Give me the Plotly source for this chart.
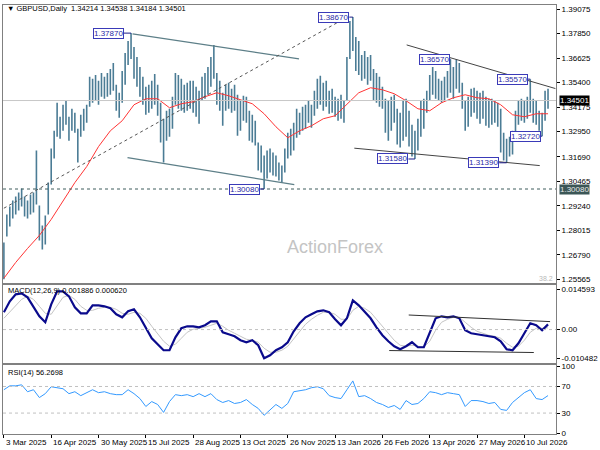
import plotly.graph_objects as go

bar_high = [
    1.2741, 1.2880, 1.2920, 1.2950, 1.2970, 1.2990, 1.3010, 1.2970, 1.2950, 1.2980,
    1.2990, 1.3200, 1.2925, 1.2826, 1.2875, 1.3040, 1.3210, 1.3299, 1.3439, 1.3369,
    1.3429, 1.3449, 1.3369, 1.3409, 1.3389, 1.3309, 1.3379, 1.3409, 1.3429, 1.3569,
    1.3559, 1.3578, 1.3549, 1.3588, 1.3569, 1.3588, 1.3608, 1.3638, 1.3529, 1.3489,
    1.3598, 1.3688, 1.3748, 1.3787, 1.3718, 1.3668, 1.3618, 1.3569, 1.3519, 1.3529,
    1.3549, 1.3583, 1.3529, 1.3439, 1.3359, 1.3399, 1.3409, 1.3469, 1.3588, 1.3578,
    1.3559, 1.3529, 1.3539, 1.3549, 1.3549, 1.3519, 1.3499, 1.3569, 1.3588, 1.3618,
    1.3668, 1.3728, 1.3588, 1.3549, 1.3489, 1.3529, 1.3539, 1.3509, 1.3529, 1.3479,
    1.3449, 1.3474, 1.3469, 1.3399, 1.3379, 1.3349, 1.3240, 1.3225, 1.3175, 1.3200,
    1.3210, 1.3190, 1.3175, 1.3140, 1.3125, 1.3210, 1.3289, 1.3309, 1.3339, 1.3409,
    1.3389, 1.3419, 1.3429, 1.3449, 1.3429, 1.3499, 1.3559, 1.3574, 1.3539, 1.3549,
    1.3499, 1.3509, 1.3469, 1.3459, 1.3479, 1.3449, 1.3668, 1.3848, 1.3867, 1.3768,
    1.3748, 1.3678, 1.3698, 1.3668, 1.3678, 1.3608, 1.3588, 1.3569, 1.3519, 1.3459,
    1.3449, 1.3469, 1.3479, 1.3409, 1.3389, 1.3449, 1.3459, 1.3399, 1.3329, 1.3299,
    1.3359, 1.3449, 1.3459, 1.3499, 1.3578, 1.3618, 1.3598, 1.3559, 1.3549, 1.3569,
    1.3598, 1.3657, 1.3618, 1.3655, 1.3638, 1.3539, 1.3449, 1.3469, 1.3509, 1.3514,
    1.3499, 1.3489, 1.3499, 1.3469, 1.3459, 1.3459, 1.3449, 1.3439, 1.3409, 1.3289,
    1.3259, 1.3269, 1.3299, 1.3399, 1.3449, 1.3459, 1.3449, 1.3469, 1.3557, 1.3459,
    1.3449, 1.3399, 1.3389, 1.3499, 1.3509,
]
bar_low = [
    1.2557, 1.2771, 1.2821, 1.2860, 1.2880, 1.2900, 1.2920, 1.2870, 1.2860, 1.2880,
    1.2890, 1.2930, 1.2751, 1.2706, 1.2731, 1.2880, 1.3030, 1.3160, 1.3269, 1.3259,
    1.3299, 1.3329, 1.3249, 1.3299, 1.3289, 1.3140, 1.3269, 1.3299, 1.3339, 1.3419,
    1.3439, 1.3449, 1.3429, 1.3469, 1.3459, 1.3469, 1.3479, 1.3499, 1.3399, 1.3364,
    1.3439, 1.3529, 1.3628, 1.3658, 1.3559, 1.3519, 1.3469, 1.3429, 1.3379, 1.3389,
    1.3409, 1.3429, 1.3374, 1.3240, 1.3140, 1.3249, 1.3269, 1.3309, 1.3429, 1.3409,
    1.3399, 1.3389, 1.3399, 1.3409, 1.3389, 1.3369, 1.3334, 1.3449, 1.3459, 1.3479,
    1.3519, 1.3559, 1.3429, 1.3399, 1.3324, 1.3399, 1.3409, 1.3389, 1.3399, 1.3274,
    1.3299, 1.3349, 1.3339, 1.3249, 1.3240, 1.3225, 1.3100, 1.3090, 1.3008, 1.3060,
    1.3090, 1.3075, 1.3070, 1.3050, 1.3040, 1.3090, 1.3160, 1.3175, 1.3200, 1.3264,
    1.3279, 1.3299, 1.3309, 1.3339, 1.3314, 1.3374, 1.3409, 1.3429, 1.3399, 1.3419,
    1.3384, 1.3389, 1.3369, 1.3349, 1.3359, 1.3339, 1.3449, 1.3658, 1.3698, 1.3598,
    1.3578, 1.3549, 1.3559, 1.3529, 1.3549, 1.3449, 1.3439, 1.3419, 1.3409, 1.3289,
    1.3249, 1.3299, 1.3339, 1.3230, 1.3215, 1.3249, 1.3269, 1.3220, 1.3170, 1.3158,
    1.3200, 1.3269, 1.3309, 1.3389, 1.3449, 1.3479, 1.3459, 1.3449, 1.3439, 1.3449,
    1.3464, 1.3489, 1.3459, 1.3509, 1.3489, 1.3409, 1.3299, 1.3319, 1.3369, 1.3389,
    1.3359, 1.3334, 1.3359, 1.3324, 1.3314, 1.3329, 1.3339, 1.3319, 1.3190, 1.3150,
    1.3139, 1.3170, 1.3180, 1.3249, 1.3329, 1.3349, 1.3339, 1.3359, 1.3389, 1.3339,
    1.3329, 1.3299, 1.3272, 1.3349, 1.3409,
]

# red moving average, one reading every 4th bar
ma_line = [
    1.2562, 1.2641, 1.2711, 1.2776, 1.2856, 1.2950, 1.3040, 1.3120, 1.3220, 1.3299,
    1.3349, 1.3429, 1.3459, 1.3459, 1.3414, 1.3434, 1.3444, 1.3469, 1.3489, 1.3474,
    1.3454, 1.3434, 1.3384, 1.3319, 1.3264, 1.3299, 1.3324, 1.3359, 1.3374, 1.3429,
    1.3489, 1.3514, 1.3504, 1.3484, 1.3449, 1.3409, 1.3399, 1.3439, 1.3464, 1.3479,
    1.3464, 1.3459, 1.3429, 1.3379, 1.3369, 1.3384, 1.3384,
]

# MACD(12,26,9), one reading every 2nd bar
macd_main = [
    0.00626, 0.01024, 0.01277, 0.01313, 0.01169, 0.00807, 0.00481, 0.00264, 0.00915, 0.01386,
    0.01386, 0.01205, 0.00807, 0.00590, 0.00590, 0.00879, 0.00879, 0.00843, 0.00771, 0.00554,
    0.00445, 0.00662, 0.00734, 0.00445, 0.00047, -0.00315, -0.00532, -0.00749, -0.00749, -0.00279,
    0.00047, 0.00119, 0.00119, 0.00083, 0.00156, 0.00300, 0.00300, -0.00098, -0.00170, -0.00242,
    -0.00387, -0.00459, -0.00387, -0.00568, -0.01040, -0.00930, -0.00749, -0.00640, -0.00459, -0.00062,
    0.00228, 0.00445, 0.00554, 0.00662, 0.00698, 0.00626, 0.00373, 0.00156, 0.00409, 0.01060,
    0.00879, 0.00626, 0.00409, 0.00083, -0.00206, -0.00423, -0.00604, -0.00713, -0.00604, -0.00459,
    -0.00640, -0.00640, -0.00098, 0.00409, 0.00481, 0.00445, 0.00481, 0.00409, -0.00025, -0.00134,
    -0.00170, -0.00206, -0.00242, -0.00279, -0.00423, -0.00713, -0.00749, -0.00496, -0.00134, 0.00228,
    0.00156, -0.00025, 0.00189,
]
macd_signal = [
    0.00409, 0.00626, 0.00879, 0.01096, 0.01205, 0.01096, 0.00843, 0.00590, 0.00554, 0.00879,
    0.01169, 0.01241, 0.01096, 0.00843, 0.00698, 0.00698, 0.00771, 0.00807, 0.00807, 0.00734,
    0.00590, 0.00554, 0.00626, 0.00590, 0.00409, 0.00119, -0.00170, -0.00423, -0.00604, -0.00532,
    -0.00315, -0.00098, 0.00011, 0.00047, 0.00083, 0.00156, 0.00228, 0.00119, -0.00025, -0.00134,
    -0.00242, -0.00351, -0.00387, -0.00459, -0.00677, -0.00821, -0.00821, -0.00749, -0.00604, -0.00351,
    -0.00062, 0.00192, 0.00373, 0.00517, 0.00626, 0.00626, 0.00554, 0.00373, 0.00373, 0.00698,
    0.00843, 0.00771, 0.00626, 0.00373, 0.00083, -0.00170, -0.00387, -0.00568, -0.00604, -0.00568,
    -0.00604, -0.00640, -0.00423, -0.00025, 0.00264, 0.00373, 0.00445, 0.00445, 0.00264, 0.00083,
    -0.00062, -0.00134, -0.00206, -0.00242, -0.00315, -0.00496, -0.00640, -0.00604, -0.00387, -0.00098,
    0.00047, 0.00047, 0.00062,
]

# RSI(14), one reading every 2nd bar
rsi_line = [
    65.1, 71.0, 71.0, 72.5, 62.1, 65.1, 53.3, 59.2, 69.6, 68.1,
    66.6, 59.2, 62.1, 56.2, 60.7, 65.1, 60.7, 62.1, 59.2, 57.7,
    57.7, 65.1, 59.2, 51.8, 39.9, 47.3, 42.9, 31.0, 47.3, 57.7,
    56.2, 57.7, 54.7, 59.2, 54.7, 59.2, 50.3, 45.9, 48.8, 44.4,
    45.9, 50.3, 42.9, 37.0, 26.6, 35.5, 42.9, 37.0, 44.4, 62.1,
    63.6, 65.1, 68.1, 69.6, 66.6, 56.2, 53.3, 51.8, 65.1, 78.4,
    54.7, 56.2, 51.8, 45.9, 42.9, 38.4, 41.4, 35.5, 48.8, 42.9,
    44.4, 51.8, 62.1, 60.7, 57.7, 60.7, 59.2, 57.7, 39.9, 48.8,
    48.8, 47.3, 44.4, 45.9, 35.5, 34.0, 45.9, 53.3, 60.7, 65.1,
    51.8, 50.3, 56.3,
]

date_labels = ["3 Mar 2025", "16 Apr 2025", "30 May 2025", "15 Jul 2025", "28 Aug 2025",
               "13 Oct 2025", "26 Nov 2025", "13 Jan 2026", "26 Feb 2026", "13 Apr 2026",
               "27 May 2026", "10 Jul 2026"]
price_ticks = [1.39075, 1.37850, 1.36625, 1.35400, 1.34175, 1.32950, 1.31690,
               1.30465, 1.29240, 1.28015, 1.26790, 1.25565]
macd_ticks = [0.014593, 0.0, -0.010482]
rsi_ticks = [100, 70, 30, 0]

# swing high / low labels: (text, bar, price)
swing_labels = [("1.37870", 43, 1.3787), ("1.38670", 118, 1.3867), ("1.30080", 88, 1.3008),
                ("1.31580", 139, 1.3158), ("1.36570", 151, 1.3657), ("1.31390", 170, 1.3139),
                ("1.35570", 178, 1.3557), ("1.32720", 182, 1.3272)]
label_gap = [2.4, 1.2, 1.5, 2.2, 0.3, 2.5, 0.8, 0.5]

# drawn trendlines: (bar0, price0, bar1, price1)
channel_lines = [(43.5, 1.3783, 99.8, 1.3658), (41.8, 1.3165, 98.2, 1.3030)]
wedge_lines = [(136.2, 1.3728, 186.5, 1.3510), (118.5, 1.3212, 181.2, 1.3125)]
rising_line = (0, 1.2912, 115.5, 1.3862)
macd_lines = [(136.9, 0.00528, 184.7, 0.00289), (130.3, -0.00760, 179.2, -0.00832)]

header = "GBPUSD,Daily  1.34214 1.34538 1.34184 1.34501"
last_price = 1.34501
support_level = 1.30080

FONT = "Liberation Sans, Arial, sans-serif"
n = len(bar_high)
x_range = [-0.3, 186.7]

seg_x, seg_y = [], []
for i in range(n):
    seg_x += [i, i, None]
    seg_y += [bar_low[i], bar_high[i], None]

fig = go.Figure()
fig.add_trace(go.Scatter(x=seg_x, y=seg_y, mode="lines", line=dict(color="#4b7c95", width=1.6),
                         xaxis="x", yaxis="y", hoverinfo="skip"))
fig.add_trace(go.Scatter(x=list(range(0, n, 4)), y=ma_line, mode="lines",
                         line=dict(color="#ff3434", width=1), xaxis="x", yaxis="y"))
fig.add_trace(go.Scatter(x=list(range(0, n, 2)), y=macd_signal, mode="lines",
                         line=dict(color="#c4c4c4", width=1), xaxis="x2", yaxis="y2"))
fig.add_trace(go.Scatter(x=list(range(0, n, 2)), y=macd_main, mode="lines",
                         line=dict(color="#0a0a8c", width=2.2), xaxis="x2", yaxis="y2"))
fig.add_trace(go.Scatter(x=list(range(0, n, 2)), y=rsi_line, mode="lines",
                         line=dict(color="#3399ff", width=1), xaxis="x3", yaxis="y3"))

frame = dict(showline=True, mirror=True, linecolor="#808080", linewidth=1,
             showgrid=False, zeroline=False)
xcommon = dict(frame, range=x_range, showticklabels=False)
ycommon = dict(frame, side="right", ticks="outside", ticklen=3, tickcolor="#000",
               tickfont=dict(family=FONT, size=8, color="#000"))

tick_bars = [16 * k for k in range(len(date_labels))]
fig.update_layout(
    width=600, height=450, margin=dict(l=2, r=37, t=4, b=16),
    paper_bgcolor="white", plot_bgcolor="white", showlegend=False,
    xaxis=dict(xcommon, anchor="y"),
    xaxis2=dict(xcommon, anchor="y2", matches="x"),
    xaxis3=dict(xcommon, anchor="y3", matches="x", ticks="outside", ticklen=3,
                tickcolor="#000", tickvals=tick_bars),
    yaxis=dict(ycommon, domain=[0.3512, 1], range=[1.25366, 1.39275], anchor="x",
               tickvals=price_ticks, ticktext=["%.5f" % v for v in price_ticks]),
    yaxis2=dict(ycommon, domain=[0.1651, 0.3465], range=[-0.01218, 0.01603], anchor="x2",
                tickvals=macd_ticks, ticktext=["0.014593", "0.00", "-0.010482"]),
    yaxis3=dict(ycommon, domain=[0, 0.1605], range=[-1.5, 102.1], anchor="x3",
                tickvals=rsi_ticks, ticktext=[str(v) for v in rsi_ticks]),
)

# level lines
fig.add_shape(type="line", xref="x domain", yref="y", x0=0, x1=1, y0=last_price, y1=last_price,
              line=dict(color="#c8c8c8", width=1))
fig.add_shape(type="line", xref="x domain", yref="y", x0=0, x1=1, y0=support_level,
              y1=support_level, line=dict(color="#3e5c5c", width=1, dash="3px,3px"))
fig.add_shape(type="line", xref="x2 domain", yref="y2", x0=0, x1=1, y0=0, y1=0,
              line=dict(color="#c0c0c0", width=1, dash="3px,3px"))
for lvl in [70, 30]:
    fig.add_shape(type="line", xref="x3 domain", yref="y3", x0=0, x1=1, y0=lvl, y1=lvl,
                  line=dict(color="#c0c0c0", width=1, dash="3px,3px"))

# trendlines
for x0, y0, x1, y1 in channel_lines:
    fig.add_shape(type="line", xref="x", yref="y", x0=x0, y0=y0, x1=x1, y1=y1,
                  line=dict(color="#5d7f88", width=1.2))
for x0, y0, x1, y1 in wedge_lines:
    fig.add_shape(type="line", xref="x", yref="y", x0=x0, y0=y0, x1=x1, y1=y1,
                  line=dict(color="#444444", width=1))
x0, y0, x1, y1 = rising_line
fig.add_shape(type="line", xref="x", yref="y", x0=x0, y0=y0, x1=x1, y1=y1,
              line=dict(color="#555555", width=1, dash="3px,3px"))
for x0, y0, x1, y1 in macd_lines:
    fig.add_shape(type="line", xref="x2", yref="y2", x0=x0, y0=y0, x1=x1, y1=y1,
                  line=dict(color="#303030", width=1))

# swing labels
for (txt, bar, price), gap in zip(swing_labels, label_gap):
    fig.add_shape(type="line", xref="x", yref="y", x0=bar - gap, x1=bar, y0=price, y1=price,
                  line=dict(color="#1c1c8a", width=1))
    fig.add_annotation(x=bar - gap, y=price, xref="x", yref="y", text=txt, showarrow=False,
                       xanchor="right", yanchor="middle", bgcolor="white",
                       bordercolor="#3a3ab8", borderwidth=1, borderpad=0,
                       font=dict(family=FONT, size=8, color="#2a2aa6"))

# price boxes on the right scale
fig.add_annotation(x=1, y=last_price, xref="paper", yref="y", text="%.5f" % last_price,
                   showarrow=False, xanchor="left", xshift=3, bgcolor="#000", borderpad=0,
                   font=dict(family=FONT, size=8, color="white"))
fig.add_annotation(x=1, y=support_level, xref="paper", yref="y", text="%.5f" % support_level,
                   showarrow=False, xanchor="left", xshift=3, bgcolor="#3b5656", borderpad=0,
                   font=dict(family=FONT, size=8, color="#e8e8e8"))

# date labels, drawn to the right of each tick like the terminal does
for b, lab in zip(tick_bars, date_labels):
    fig.add_annotation(x=b, y=0, xref="x3", yref="paper", text=lab, showarrow=False,
                       xanchor="left", yanchor="top", yshift=-2,
                       font=dict(family=FONT, size=8, color="#000"))

# panel captions and watermark
fig.add_annotation(x=0.004, y=0.992, xref="paper", yref="paper", text="\u25bc " + header,
                   showarrow=False, xanchor="left", yanchor="middle",
                   font=dict(family=FONT, size=7.5, color="#000"))
fig.add_annotation(x=0.005, y=0.335, xref="paper", yref="paper",
                   text="MACD(12,26,9) 0.001886 0.000620", showarrow=False,
                   xanchor="left", yanchor="middle", font=dict(family=FONT, size=7.5, color="#000"))
fig.add_annotation(x=0.005, y=0.144, xref="paper", yref="paper", text="RSI(14) 56.2698",
                   showarrow=False, xanchor="left", yanchor="middle",
                   font=dict(family=FONT, size=7.5, color="#000"))
fig.add_annotation(x=0.998, y=0.362, xref="paper", yref="paper", text="38.2",
                   showarrow=False, xanchor="right", yanchor="middle",
                   font=dict(family=FONT, size=7, color="#b8b8b8"))
fig.add_annotation(x=0.601, y=0.437, xref="paper", yref="paper", text="ActionForex",
                   showarrow=False, font=dict(family=FONT, size=18, color="#c4c4c4"))

# the page's default body margin would push the figure off the 600x450 window
fig.write_html("out.html", config={"displayModeBar": False},
               post_script="document.body.style.margin='0';document.body.style.overflow='hidden';")
